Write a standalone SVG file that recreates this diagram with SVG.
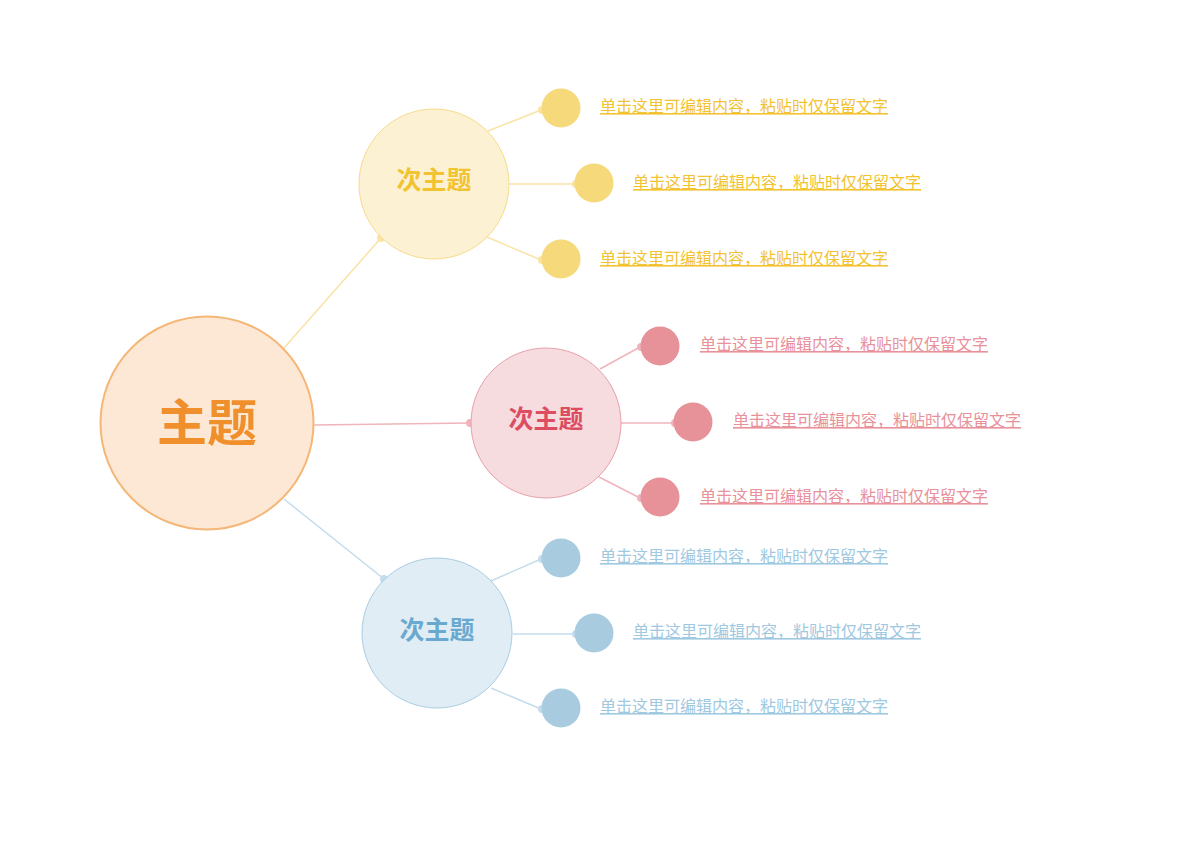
<svg xmlns="http://www.w3.org/2000/svg" width="1200" height="848" viewBox="0 0 1200 848">
<style>
text{font-family:"Noto Sans CJK SC","Noto Sans",sans-serif}
.main{font-size:50px;font-weight:bold;fill:#F0902D}
.sub{font-size:25px;font-weight:bold}
.leaf{font-size:16px;text-decoration:underline}
.y{fill:#F3C230}.p{fill:#E8919B}.b{fill:#9FC8E1}
.ly{stroke:#F9E3A5}.lp{stroke:#F0B4BC}.lb{stroke:#C3DDEC}
.dy{fill:#F9E3A5}.dp{fill:#F0B4BC}.db{fill:#C3DDEC}
</style>
<rect width="1200" height="848" fill="#fff"/>
<g id="connectors" stroke-width="1.5" fill="none">
<line class="ly" x1="284" y1="348" x2="381" y2="238"/>
<line class="lp" x1="314" y1="425" x2="470" y2="423"/>
<line class="lb" x1="284" y1="499" x2="384" y2="579"/>
<line class="ly" x1="488" y1="131" x2="541" y2="110"/>
<line class="ly" x1="509" y1="184" x2="575" y2="184"/>
<line class="ly" x1="487" y1="237" x2="541" y2="260"/>
<line class="lp" x1="600" y1="369" x2="640" y2="347"/>
<line class="lp" x1="621" y1="423" x2="674" y2="423"/>
<line class="lp" x1="599" y1="477" x2="640" y2="498"/>
<line class="lb" x1="491" y1="581" x2="541" y2="559"/>
<line class="lb" x1="513" y1="634" x2="575" y2="634"/>
<line class="lb" x1="491" y1="688" x2="541" y2="709"/>
<g stroke="none">
<circle class="dy" cx="381" cy="238" r="4"/>
<circle class="dp" cx="470" cy="423" r="4"/>
<circle class="db" cx="384" cy="579" r="4"/>
<circle class="dy" cx="542" cy="110" r="4"/>
<circle class="dy" cx="576" cy="184" r="4"/>
<circle class="dy" cx="542" cy="260" r="4"/>
<circle class="dp" cx="641" cy="347" r="4"/>
<circle class="dp" cx="675" cy="423" r="4"/>
<circle class="dp" cx="641" cy="498" r="4"/>
<circle class="db" cx="542" cy="559" r="4"/>
<circle class="db" cx="576" cy="634" r="4"/>
<circle class="db" cx="542" cy="709" r="4"/>
</g>
</g>
<g id="main">
<circle cx="207" cy="423" r="106.5" fill="#FDE8D6" stroke="#F4B777" stroke-width="2"/>
<text class="main" x="207" y="441" text-anchor="middle">主题</text>
</g>
<g id="sub-yellow">
<circle cx="434" cy="184" r="75" fill="#FCF2D3" stroke="#F7DB8A" stroke-width="1"/>
<text class="sub y" x="434" y="189" text-anchor="middle">次主题</text>
</g>
<g id="sub-pink">
<circle cx="546" cy="423" r="75" fill="#F6DBDF" stroke="#E8A0AA" stroke-width="1"/>
<text class="sub" fill="#DC4D62" x="546" y="428" text-anchor="middle">次主题</text>
</g>
<g id="sub-blue">
<circle cx="437" cy="633" r="75" fill="#E0EDF5" stroke="#A8CDE2" stroke-width="1"/>
<text class="sub" fill="#6AA9CF" x="437" y="639" text-anchor="middle">次主题</text>
</g>
<g id="leaf-y1"><circle cx="561" cy="108" r="19.5" fill="#F5D97A"/><text class="leaf y" x="600" y="112">单击这里可编辑内容，粘贴时仅保留文字</text></g>
<g id="leaf-y2"><circle cx="594" cy="183" r="19.5" fill="#F5D97A"/><text class="leaf y" x="633" y="188">单击这里可编辑内容，粘贴时仅保留文字</text></g>
<g id="leaf-y3"><circle cx="561" cy="259" r="19.5" fill="#F5D97A"/><text class="leaf y" x="600" y="264">单击这里可编辑内容，粘贴时仅保留文字</text></g>
<g id="leaf-p1"><circle cx="660" cy="346" r="19.5" fill="#E79199"/><text class="leaf p" x="700" y="350">单击这里可编辑内容，粘贴时仅保留文字</text></g>
<g id="leaf-p2"><circle cx="693" cy="422" r="19.5" fill="#E79199"/><text class="leaf p" x="733" y="426">单击这里可编辑内容，粘贴时仅保留文字</text></g>
<g id="leaf-p3"><circle cx="660" cy="497" r="19.5" fill="#E79199"/><text class="leaf p" x="700" y="502">单击这里可编辑内容，粘贴时仅保留文字</text></g>
<g id="leaf-b1"><circle cx="561" cy="558" r="19.5" fill="#A8CBE0"/><text class="leaf b" x="600" y="562">单击这里可编辑内容，粘贴时仅保留文字</text></g>
<g id="leaf-b2"><circle cx="594" cy="633" r="19.5" fill="#A8CBE0"/><text class="leaf b" x="633" y="637">单击这里可编辑内容，粘贴时仅保留文字</text></g>
<g id="leaf-b3"><circle cx="561" cy="708" r="19.5" fill="#A8CBE0"/><text class="leaf b" x="600" y="712">单击这里可编辑内容，粘贴时仅保留文字</text></g>
</svg>
